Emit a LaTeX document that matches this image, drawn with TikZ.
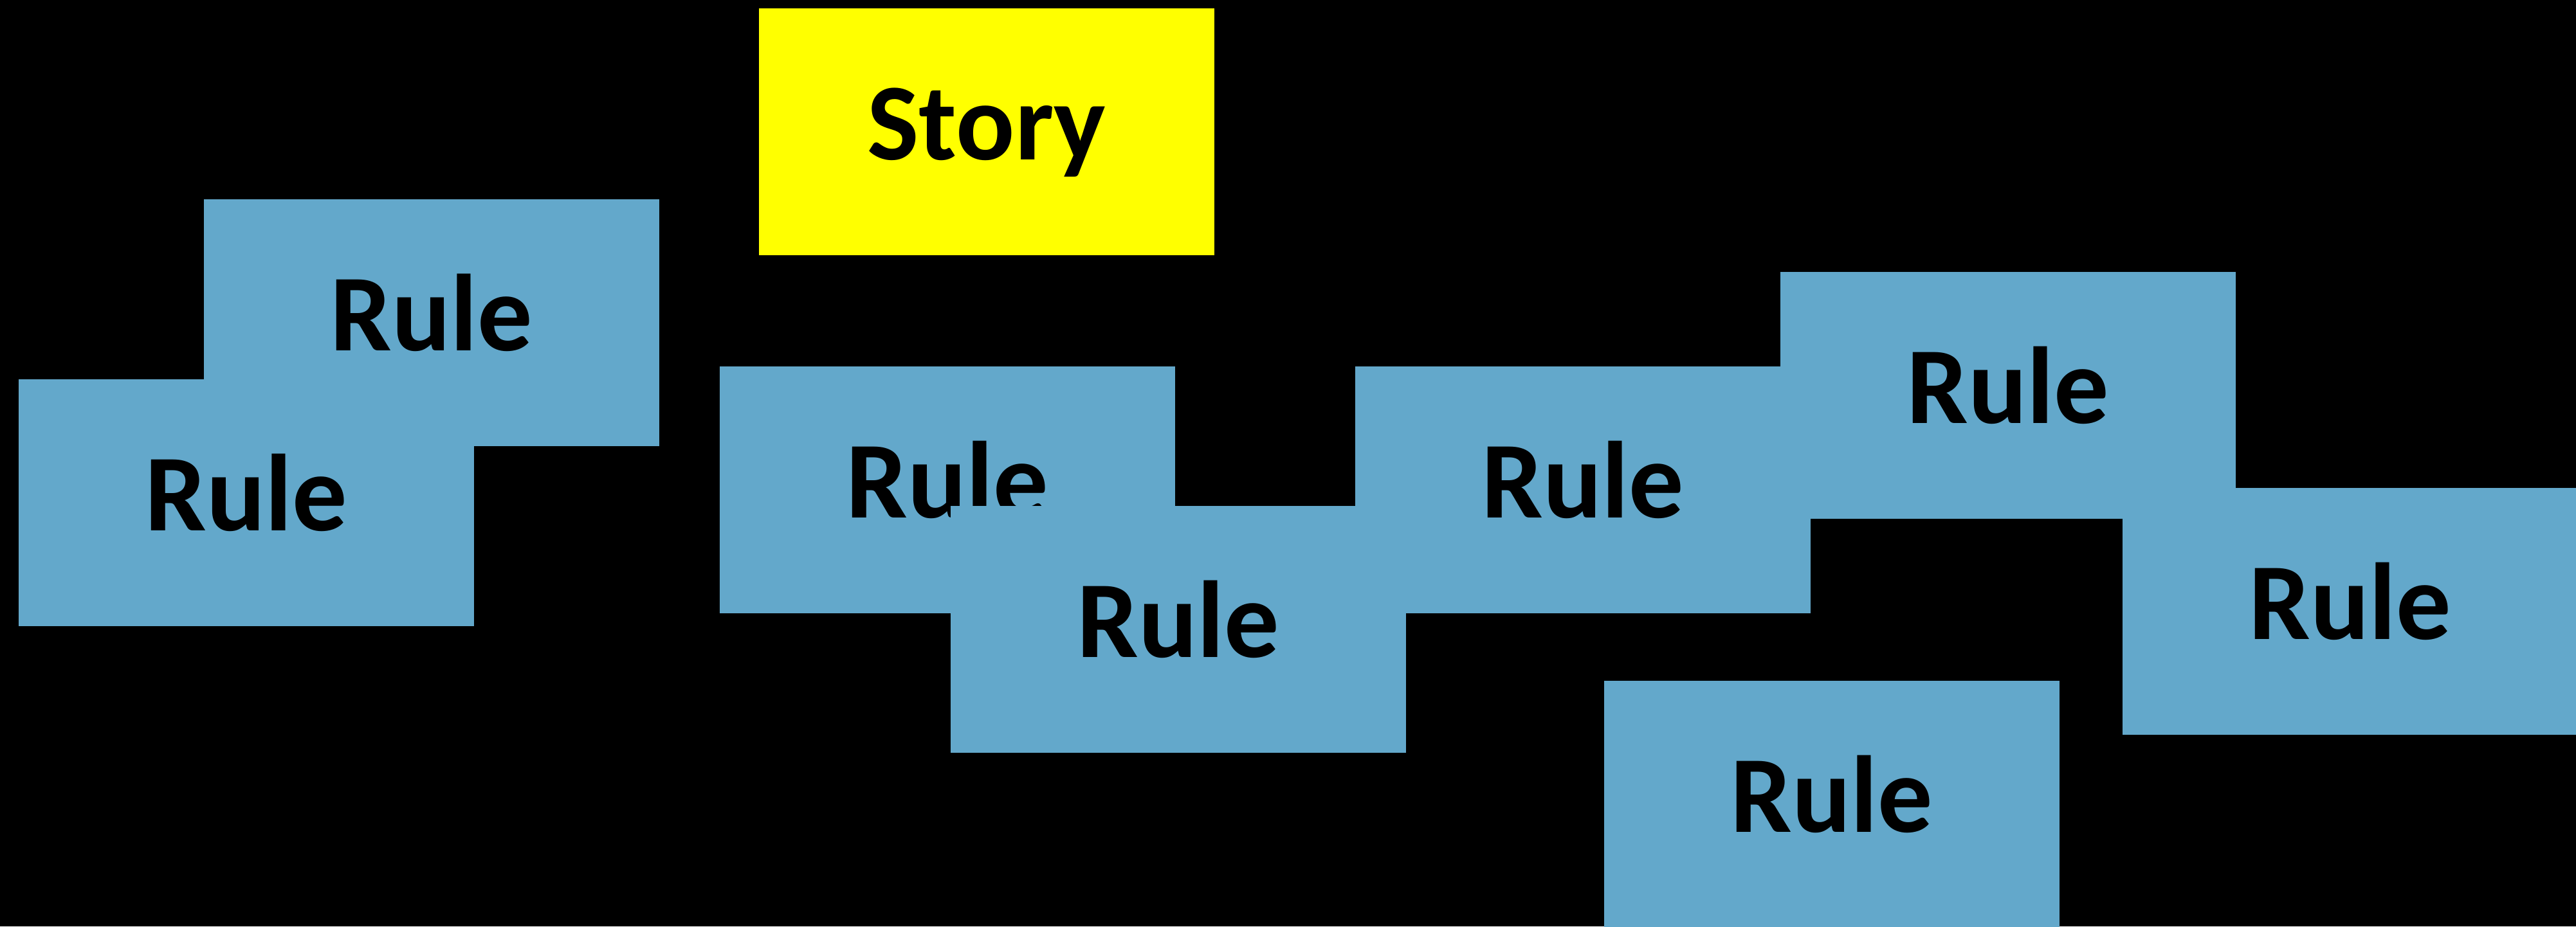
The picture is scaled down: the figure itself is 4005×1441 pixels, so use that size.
\documentclass[tikz,border=0pt]{standalone}
\usepackage{fontspec}
\setmainfont{Carlito}
\definecolor{rulebl}{RGB}{99,168,203}
\definecolor{storyy}{RGB}{255,255,0}
\begin{document}
\begin{tikzpicture}[x=0.01cm,y=-0.01cm,
  card/.style={rectangle, inner sep=0pt, minimum width=7.08cm, minimum height=3.84cm,
    text height=0.86cm, text depth=0cm,
    font=\fontsize{48.4}{58}\selectfont\bfseries, text=black},
  rulecard/.style={card, fill=rulebl},
  storycard/.style={card, fill=storyy}]
\fill[black] (0,0) rectangle (4005,1441);
\useasboundingbox (0,0) rectangle (4005,1441);
\node[storycard] (story) at (1534,205) {Story};
\node[rulecard] (ra) at (671,502) {Rule};
\node[rulecard] (rb) at (383,782) {Rule};
\node[rulecard] (rc) at (1473,762) {Rule};
\node[rulecard] (rd) at (1832,979) {Rule};
\node[rulecard] (re) at (2461,762) {Rule};
\node[rulecard] (rf) at (3122,615) {Rule};
\node[rulecard] (rg) at (3654,951) {Rule};
\node[rulecard] (rh) at (2848,1251) {Rule};
\end{tikzpicture}
\end{document}
